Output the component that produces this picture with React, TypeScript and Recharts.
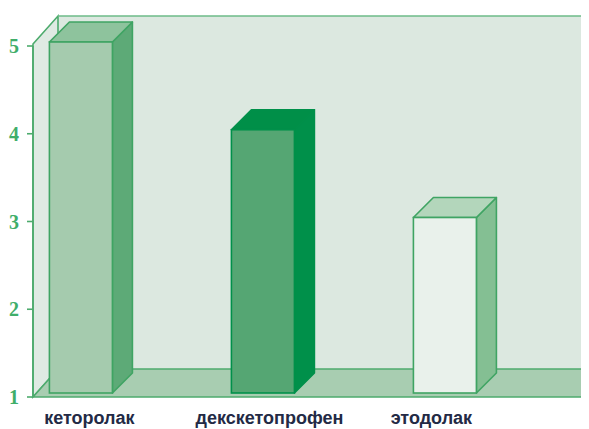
import React from 'react';
import { BarChart, Bar, XAxis, YAxis, ReferenceArea } from 'recharts';

const categories = ['кеторолак', 'декскетопрофен', 'этодолак'];
const values = [5, 4, 3];
const yTicks = [1, 2, 3, 4, 5];
const xTicks = [0, 1, 2];

const data = categories.map((name, i) => ({ pos: i, name, value: values[i] }));

// per-bar face colours: front, side, top, outline
const barColors = [
    { front: '#a5cbae', side: '#5daa77', top: '#8ec39d', edge: '#3fa463' },
    { front: '#55a673', side: '#00904a', top: '#008f48', edge: '#00904a' },
    { front: '#e9f1eb', side: '#84bf93', top: '#b3d6bb', edge: '#3fa463' },
];
const labelNudge = [8, 6, -14];

const X_DOMAIN: [number, number] = [-0.266, 2.789];
const WALL_DX = 25;
const WALL_DY = 28;
const BAR_D = 20;
const LIFT = 4;
const GREEN = '#4dab6d';

const Walls = (props: any) => {
    const { x, y, width, height } = props;
    const x0 = x, x1 = x + width, yt = y, yb = y + height;
    return (
        <g>
            <rect x={x0 + WALL_DX} y={yt - 30} width={x1 - x0 - WALL_DX} height={yb - WALL_DY - yt + 30} fill="#dce8e0" />
            <polygon
                points={`${x0},${yt - 2} ${x0 + WALL_DX},${yt - 30} ${x0 + WALL_DX},${yb - WALL_DY} ${x0},${yb}`}
                fill="#dfeae3"
                stroke={GREEN}
                strokeWidth={1.6}
            />
            <line x1={x0 + WALL_DX} y1={yt - 30} x2={x1} y2={yt - 30} stroke="#6dbb88" strokeWidth={1.6} />
            <polygon
                points={`${x0},${yb} ${x0 + WALL_DX},${yb - WALL_DY} ${x1},${yb - WALL_DY} ${x1},${yb}`}
                fill="#a8cdb1"
                stroke={GREEN}
                strokeWidth={1.6}
            />
        </g>
    );
};

const Bar3D = (props: any) => {
    const { x, y, width, height, index } = props;
    const c = barColors[index % barColors.length];
    const top = y - LIFT;
    const bottom = y + height - LIFT;
    const r = x + width;
    return (
        <g>
            <polygon
                points={`${r},${top} ${r + BAR_D},${top - BAR_D} ${r + BAR_D},${bottom - BAR_D} ${r},${bottom}`}
                fill={c.side}
                stroke={c.edge}
                strokeWidth={1.6}
                strokeLinejoin="round"
            />
            <polygon
                points={`${x},${top} ${x + BAR_D},${top - BAR_D} ${r + BAR_D},${top - BAR_D} ${r},${top}`}
                fill={c.top}
                stroke={c.edge}
                strokeWidth={1.6}
                strokeLinejoin="round"
            />
            <rect x={x} y={top} width={width} height={bottom - top} fill={c.front} stroke={c.edge} strokeWidth={1.6} />
        </g>
    );
};

const CategoryTick = (props: any) => {
    const { x, y, payload } = props;
    const i = payload.value as number;
    return (
        <text
            x={x + (labelNudge[i] || 0)}
            y={y + 27}
            textAnchor="middle"
            fill="#232a45"
            fontSize={18}
            fontWeight="bold"
            fontFamily="'Liberation Sans', Arial, sans-serif"
        >
            {categories[i]}
        </text>
    );
};

export default function App() {
    return (
        <div style={{ width: 581, height: 421 }}>
            <BarChart width={581} height={421} data={data} margin={{ top: 38, right: 0, left: 0, bottom: 0 }}>
                <XAxis
                    dataKey="pos"
                    type="number"
                    domain={X_DOMAIN}
                    ticks={xTicks}
                    axisLine={false}
                    tickLine={false}
                    tickSize={0}
                    tickMargin={0}
                    height={32}
                    tick={<CategoryTick />}
                    interval={0}
                />
                <YAxis
                    domain={[1, 5]}
                    ticks={yTicks}
                    width={25}
                    axisLine={{ stroke: GREEN, strokeWidth: 1.6 }}
                    tickLine={{ stroke: GREEN, strokeWidth: 1.6 }}
                    tickSize={6}
                    tickMargin={8}
                    tick={{ fill: '#3fae6a', fontSize: 20, fontWeight: 'bold', fontFamily: "'Liberation Serif', serif" }}
                />
                <ReferenceArea
                    x1={X_DOMAIN[0]}
                    x2={X_DOMAIN[1]}
                    y1={1}
                    y2={5}
                    ifOverflow="visible"
                    shape={<Walls />}
                    zIndex={-1}
                />
                <Bar dataKey="value" barSize={63} shape={<Bar3D />} isAnimationActive={false} />
            </BarChart>
        </div>
    );
}
